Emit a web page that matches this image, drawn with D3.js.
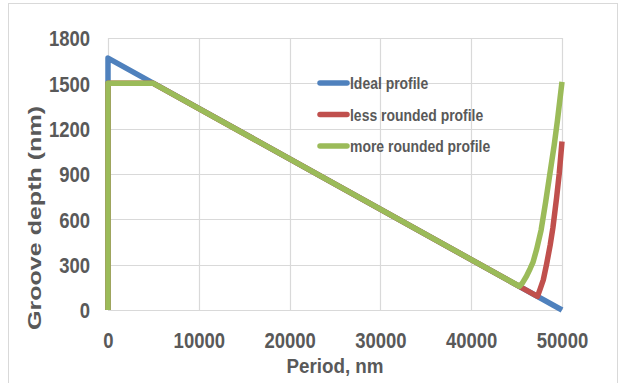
<!DOCTYPE html>
<html><head><meta charset="utf-8">
<script src="https://cdn.jsdelivr.net/npm/d3@7/dist/d3.min.js"></script>
<style>
html,body{margin:0;padding:0;background:#fff;}
text{font-family:"Liberation Sans",Arial,sans-serif;font-weight:bold;fill:#595959;}
</style></head>
<body><svg id="chart" width="620" height="383"></svg>
<script>
const xTicks = [0,10000,20000,30000,40000,50000];
const yTicks = [0,300,600,900,1200,1500,1800];
const seriesNames = ["Ideal profile","less rounded profile","more rounded profile"];
const seriesColors = ["#4f81bd","#c0504d","#9bbb59"];
const idealProfile = [[0,0],[0,1667],[50000,0]];
const lessRounded = [[0,0],[0,1500],[5000,1500],[47300,90],[47600,140],[47940,199],[48310,305],[48700,430],[49000,545],[49400,740],[49700,905],[50000,1115]];
const moreRounded = [[0,0],[0,1500],[5000,1500],[45300,157],[45600,175],[46100,225],[46500,275],[46800,315],[47200,400],[47700,529],[48200,715],[48600,875],[49150,1095],[49500,1255],[50000,1510]];
const allSeries = [idealProfile, lessRounded, moreRounded];

const svg = d3.select("#chart");
const W = 620, H = 383;
const m = {left:108, right:58, top:38, bottom:73};
const x = d3.scaleLinear().domain([0,50000]).range([m.left, W-m.right]);
const y = d3.scaleLinear().domain([0,1800]).range([H-m.bottom, m.top]);

function narrow(sel, f){
  sel.each(function(){
    const w = this.getComputedTextLength();
    d3.select(this).attr("textLength", w*f).attr("lengthAdjust","spacingAndGlyphs");
  });
}

// outer border
svg.append("rect").attr("x",8.5).attr("y",3.5).attr("width",609).attr("height",380)
  .attr("fill","none").attr("stroke","#d9d9d9");

// gridlines
const g = svg.append("g");
g.selectAll(".hg").data(yTicks).join("line")
  .attr("x1",x(0)).attr("x2",x(50000)).attr("y1",d=>Math.round(y(d))+0.5).attr("y2",d=>Math.round(y(d))+0.5)
  .attr("stroke","#d9d9d9").attr("stroke-width",1.2);
g.selectAll(".vg").data(xTicks).join("line")
  .attr("y1",y(0)).attr("y2",y(1800)).attr("x1",d=>Math.round(x(d))+0.5).attr("x2",d=>Math.round(x(d))+0.5)
  .attr("stroke","#d9d9d9").attr("stroke-width",1.2);

// axes labels via d3 axes
const yAxis = svg.append("g").attr("transform",`translate(${m.left-18},0)`)
  .call(d3.axisLeft(y).tickValues(yTicks).tickSize(0).tickPadding(0).tickFormat(d3.format("d")));
yAxis.select(".domain").remove();
yAxis.selectAll("text").style("font-size","22px").attr("dy","0.36em").call(narrow,0.84);

const xAxis = svg.append("g").attr("transform",`translate(0,${H-m.bottom+18})`)
  .call(d3.axisBottom(x).tickValues(xTicks).tickSize(0).tickPadding(0).tickFormat(d3.format("d")));
xAxis.select(".domain").remove();
xAxis.selectAll("text").style("font-size","22px").attr("dy","0.9em").call(narrow,0.84);

// titles
svg.append("text").attr("x",(x(0)+x(50000))/2).attr("y",373).attr("text-anchor","middle")
  .style("font-size","20px").text("Period, nm").call(narrow,0.94);
svg.append("text").attr("transform","translate(41,218) rotate(-90)").attr("text-anchor","middle")
  .style("font-size","18px")
  .attr("textLength",224).attr("lengthAdjust","spacingAndGlyphs").text("Groove depth (nm)");

// lines
const line = d3.line().x(d=>x(d[0])).y(d=>y(d[1]));
svg.selectAll(".series").data(allSeries).join("path")
  .attr("d",line).attr("fill","none")
  .attr("stroke",(d,i)=>seriesColors[i]).attr("stroke-width",5.5)
  .attr("stroke-linejoin","round").attr("stroke-linecap","butt");

// legend
const lg = svg.append("g");
seriesNames.forEach((name,i)=>{
  const yy = 83 + i*31.5;
  lg.append("line").attr("x1",320).attr("x2",347).attr("y1",yy).attr("y2",yy)
    .attr("stroke",seriesColors[i]).attr("stroke-width",5.5).attr("stroke-linecap","round");
  lg.append("text").attr("x",350).attr("y",yy).attr("dy","0.36em").style("font-size","17px").text(name).call(narrow,0.82);
});
</script></body></html>
